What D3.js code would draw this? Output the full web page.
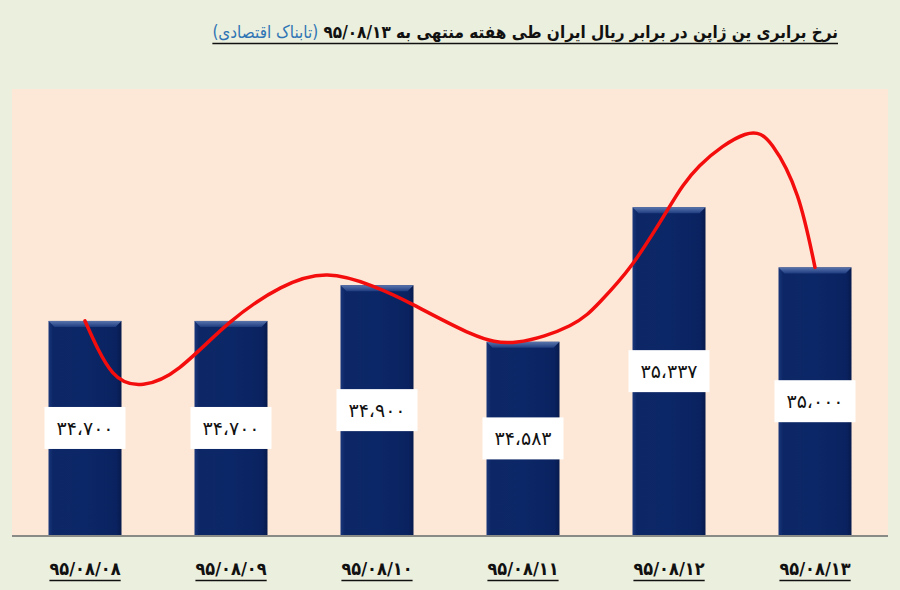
<!DOCTYPE html>
<html>
<head>
<meta charset="utf-8">
<script src="https://cdn.jsdelivr.net/npm/d3@7"></script>
<style>
  body { margin: 0; background: #ebefdd; }
  svg { display: block; }
  .title { font-family: "DejaVu Sans Condensed", "DejaVu Sans"; font-weight: bold; font-size: 17px; }
  .tick-label { font-family: "DejaVu Sans Condensed", "DejaVu Sans"; font-weight: bold; font-size: 18px; }
  .bar-label { font-family: "DejaVu Sans"; font-size: 19px; }
</style>
</head>
<body>
<div id="chart"></div>
<script>
// categories and values
const dates = ["۹۵/۰۸/۰۸", "۹۵/۰۸/۰۹", "۹۵/۰۸/۱۰", "۹۵/۰۸/۱۱", "۹۵/۰۸/۱۲", "۹۵/۰۸/۱۳"];
const rates = [34700, 34700, 34900, 34583, 35337, 35000];
const yDomain = [33500, 36000];

// the red smoothed line (position in category units, value in rial)
const curveIdx = [0, 0.19, 0.40, 0.65, 0.99, 1.34, 1.66, 1.97, 2.25, 2.64, 2.96, 3.32, 3.53, 3.75, 3.99, 4.21, 4.52, 4.71, 4.88, 5];
const curveVal = [34700, 34410, 34345, 34440, 34690, 34885, 34957, 34895, 34790, 34630, 34582, 34673, 34809, 35019, 35322, 35570, 35745, 35680, 35400, 35000];

const titleMain = "نرخ برابری ین ژاپن در برابر ریال ایران  طی هفته منتهی به ۹۵/۰۸/۱۳ ";
const titleSource = "(تابناک اقتصادی)";

const width = 900;
const height = 590;
const plot = { left: 12, right: 888, top: 89, bottom: 535 };

const faDigits = "۰۱۲۳۴۵۶۷۸۹";
function toFa(s) {
    return String(s).replace(/[0-9]/g, d => faDigits[+d]);
}
const fmt = d3.format(",");
function rateLabel(v) {
    return toFa(fmt(v)).replace(/,/g, "،");
}

const svg = d3.select("#chart")
    .append("svg")
    .attr("width", width)
    .attr("height", height);

const defs = svg.append("defs");

const body = defs.append("linearGradient")
    .attr("id", "barBody")
    .attr("x1", "0").attr("x2", "1").attr("y1", "0").attr("y2", "0");
body.append("stop").attr("offset", "0%").attr("stop-color", "#1a377a");
body.append("stop").attr("offset", "6%").attr("stop-color", "#0d2766");
body.append("stop").attr("offset", "50%").attr("stop-color", "#0c2767");
body.append("stop").attr("offset", "93%").attr("stop-color", "#0a2260");
body.append("stop").attr("offset", "100%").attr("stop-color", "#071a4c");

const bevel = defs.append("linearGradient")
    .attr("id", "barBevel")
    .attr("x1", "0").attr("x2", "0").attr("y1", "0").attr("y2", "1");
bevel.append("stop").attr("offset", "0%").attr("stop-color", "#5a75ad");
bevel.append("stop").attr("offset", "100%").attr("stop-color", "#1f3c80");

// background of the plot area
svg.append("rect")
    .attr("x", plot.left)
    .attr("y", plot.top)
    .attr("width", plot.right - plot.left)
    .attr("height", plot.bottom - plot.top)
    .attr("fill", "#fde8d8");

const x = d3.scaleBand()
    .domain(d3.range(dates.length))
    .range([plot.left, plot.right])
    .paddingInner(0.5)
    .paddingOuter(0.25);

const y = d3.scaleLinear()
    .domain(yDomain)
    .range([plot.bottom, plot.top]);

const bw = x.bandwidth();
const bevelSize = 6;

const bars = svg.append("g")
    .selectAll("g")
    .data(rates)
    .join("g");

bars.append("rect")
    .attr("x", (d, i) => x(i))
    .attr("y", d => y(d))
    .attr("width", bw)
    .attr("height", d => y(yDomain[0]) - y(d))
    .attr("fill", "url(#barBody)");

bars.append("path")
    .attr("fill", "url(#barBevel)")
    .attr("d", (d, i) => {
        const x0 = x(i), x1 = x(i) + bw, t = y(d);
        return `M${x0},${t}L${x1},${t}L${x1 - bevelSize},${t + bevelSize}L${x0 + bevelSize},${t + bevelSize}Z`;
    });

// axis line
svg.append("line")
    .attr("x1", plot.left)
    .attr("x2", plot.right)
    .attr("y1", y(yDomain[0]) + 1)
    .attr("y2", y(yDomain[0]) + 1)
    .attr("stroke", "#8a8a86")
    .attr("stroke-width", 2);

// smoothed red line
const xc = d3.scaleLinear()
    .domain([0, dates.length - 1])
    .range([x(0) + bw / 2, x(dates.length - 1) + bw / 2]);

const line = d3.line()
    .x((d, i) => xc(curveIdx[i]))
    .y(d => y(d))
    .curve(d3.curveNatural);

svg.append("path")
    .datum(curveVal)
    .attr("d", line)
    .attr("fill", "none")
    .attr("stroke", "#f40d0d")
    .attr("stroke-width", 3.5)
    .attr("stroke-linecap", "round");

// value labels in white boxes at the middle of each bar
const boxW = 81, boxH = 42;
const labels = svg.append("g")
    .selectAll("g")
    .data(rates)
    .join("g")
    .attr("transform", (d, i) => `translate(${x(i) + bw / 2},${(y(d) + y(yDomain[0])) / 2})`);

labels.append("rect")
    .attr("x", -boxW / 2)
    .attr("y", -boxH / 2)
    .attr("width", boxW)
    .attr("height", boxH)
    .attr("fill", "#ffffff");

labels.append("text")
    .attr("class", "bar-label")
    .attr("text-anchor", "middle")
    .attr("dy", "0.35em")
    .attr("fill", "#111")
    .text(d => rateLabel(d));

// category labels, underlined
const ticks = svg.append("g")
    .selectAll("g")
    .data(dates)
    .join("g")
    .attr("transform", (d, i) => `translate(${x(i) + bw / 2},575)`);

ticks.append("text")
    .attr("class", "tick-label")
    .attr("text-anchor", "middle")
    .attr("direction", "ltr")
    .attr("fill", "#111")
    .text(d => d);

ticks.each(function() {
    const g = d3.select(this);
    const b = g.select("text").node().getBBox();
    g.append("line")
        .attr("x1", b.x)
        .attr("x2", b.x + b.width)
        .attr("y1", 5.5)
        .attr("y2", 5.5)
        .attr("stroke", "#111")
        .attr("stroke-width", 1.5);
});

// title
const title = svg.append("text")
    .attr("class", "title")
    .attr("x", 838)
    .attr("y", 38)
    .attr("direction", "rtl")
    .attr("text-anchor", "start")
    .attr("fill", "#111");

title.append("tspan").text(titleMain);
title.append("tspan").attr("fill", "#2f75b5").attr("font-weight", "normal").text(titleSource);

const tb = title.node().getBBox();
svg.append("line")
    .attr("x1", tb.x)
    .attr("x2", tb.x + tb.width)
    .attr("y1", 43.5)
    .attr("y2", 43.5)
    .attr("stroke", "#111")
    .attr("stroke-width", 1.5);
</script>
</body>
</html>
